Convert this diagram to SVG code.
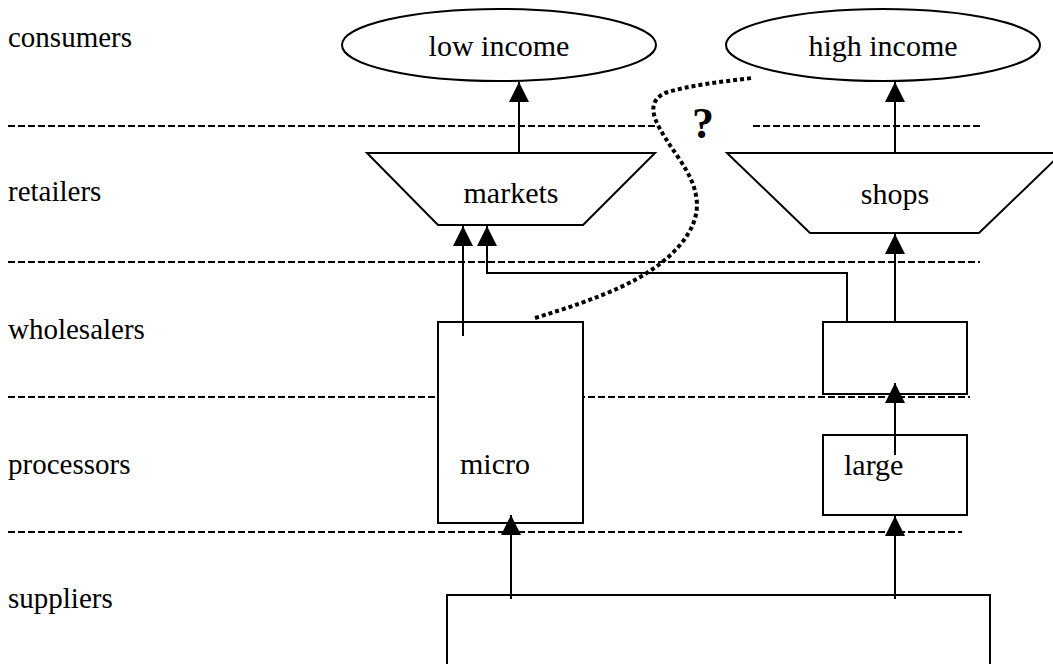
<svg xmlns="http://www.w3.org/2000/svg" width="1053" height="664" viewBox="0 0 1053 664">
  <style>
    .lbl { font-family: 'Liberation Serif', 'Times New Roman', serif; font-size: 30px; fill: #000; }
    .side { font-size: 29px; }
    .mid { text-anchor: middle; }
    .shape { fill: #fff; stroke: #000; stroke-width: 2; }
    .tier { stroke: #000; stroke-width: 2; stroke-dasharray: 7 3; fill: none; }
    .flow { stroke: #000; stroke-width: 2; fill: none; marker-end: url(#head); }
    .maybe { stroke: #000; stroke-width: 4; stroke-dasharray: 4 3; fill: none; }
  </style>
  <defs>
    <marker id="head" markerUnits="userSpaceOnUse" markerWidth="20" markerHeight="20" refX="20" refY="10" orient="auto">
      <path d="M0,0 L20,10 L0,20 z" fill="#000"/>
    </marker>
  </defs>
  <rect width="1053" height="664" fill="#fff"/>

  <!-- tier labels -->
  <g id="tier-labels">
    <text class="lbl side" x="8" y="47">consumers</text>
    <text class="lbl side" x="8" y="201">retailers</text>
    <text class="lbl side" x="8" y="339">wholesalers</text>
    <text class="lbl side" x="8" y="474">processors</text>
    <text class="lbl side" x="8" y="608">suppliers</text>
  </g>

  <!-- tier separators -->
  <g id="separators">
    <path class="tier" d="M8,126 H657"/>
    <path class="tier" d="M753,126 H980"/>
    <path class="tier" d="M8,262 H980"/>
    <path class="tier" d="M8,397 H970"/>
    <path class="tier" d="M8,532 H962"/>
  </g>

  <g id="low-income">
    <ellipse class="shape" cx="499" cy="45" rx="157" ry="36"/>
    <text class="lbl mid" x="499" y="56">low income</text>
  </g>

  <g id="high-income">
    <ellipse class="shape" cx="883" cy="45" rx="157" ry="36"/>
    <text class="lbl mid" x="883" y="56">high income</text>
  </g>

  <g id="markets">
    <polygon class="shape" points="367,153 655,153 583,225 438,225"/>
    <text class="lbl mid" x="511" y="203">markets</text>
  </g>

  <g id="shops">
    <polygon class="shape" points="727,153 1062,153 979,233 810,233"/>
    <text class="lbl mid" x="895" y="204">shops</text>
  </g>

  <g id="micro">
    <rect class="shape" x="438" y="322" width="145" height="201"/>
    <text class="lbl" x="460" y="474">micro</text>
  </g>

  <g id="wholesaler-large">
    <rect class="shape" x="823" y="322" width="144" height="72"/>
  </g>

  <g id="large">
    <rect class="shape" x="823" y="435" width="144" height="80"/>
    <text class="lbl" x="844" y="475">large</text>
  </g>

  <g id="suppliers-box">
    <rect class="shape" x="447" y="595" width="543" height="80"/>
  </g>

  <!-- flows between tiers -->
  <g id="connectors">
    <path class="flow" d="M519,153 V82"/>
    <path class="flow" d="M895,153 V82"/>
    <path class="flow" d="M463,336 V226"/>
    <path class="flow" d="M847,322 V273 H487 V226"/>
    <path class="flow" d="M895,322 V234"/>
    <path class="flow" d="M895,455 V383"/>
    <path class="flow" d="M511,599 V515"/>
    <path class="flow" d="M895,599 V516"/>
    <path class="maybe" d="M535,318 C600,298 650,280 680,245 C705,215 700,190 680,160 C660,130 640,105 665,93 C690,85 720,82 752,78"/>
  </g>

  <g id="question">
    <text x="703" y="138" text-anchor="middle" font-family="'Liberation Serif', 'Times New Roman', serif" font-size="44" font-weight="bold">?</text>
  </g>
</svg>
